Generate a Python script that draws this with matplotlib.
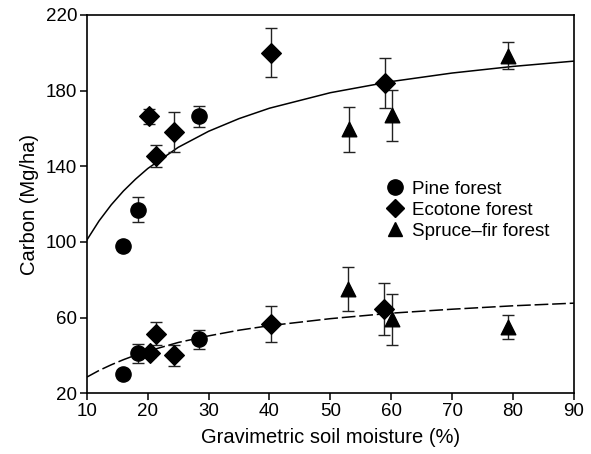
import numpy as np
import matplotlib
matplotlib.use("Agg")
import matplotlib.pyplot as plt
from matplotlib.lines import Line2D

plt.rcParams['font.family'] = ['Liberation Sans', 'DejaVu Sans']

# Pine forest (circles)
pine_x = [15.9, 18.4, 28.4, 15.9, 18.4, 28.4]
pine_y = [98, 117, 166.5, 30, 41, 48.5]
pine_err = [2.5, 6.5, 5.5, 0, 5, 5]

# Ecotone forest (diamonds)
eco_x = [20.2, 21.3, 24.3, 40.2, 58.9, 20.3, 21.3, 24.3, 40.2, 58.8]
eco_y = [166.5, 145.5, 158, 200, 184, 41, 51.5, 40, 56.5, 64.5]
eco_err = [4, 6, 10.5, 13, 13, 2, 6, 5.5, 9.5, 13.5]

# Spruce-fir forest (triangles)
spruce_x = [53.0, 60.2, 79.1, 52.9, 60.2, 79.1]
spruce_y = [159.5, 167, 198.5, 75, 59, 55]
spruce_err = [12, 13.5, 7, 11.5, 13.5, 6.5]

# fitted curves
curve_x = [10, 12, 14, 16, 18, 20, 25, 30, 35, 40, 50, 60, 70, 80, 90]
upper_y = [101, 111.1, 119.6, 126.9, 133.2, 138.8, 150.0, 158.5, 165.2,
           170.7, 178.9, 184.8, 189.3, 192.8, 195.6]
lower_y = [28.5, 32.0, 35.0, 37.7, 40.1, 42.2, 46.8, 50.3, 53.3,
           55.7, 59.4, 62.3, 64.4, 66.2, 67.6]

fig = plt.figure(figsize=(5.91, 4.54), dpi=100)
ax = fig.add_axes([0.147, 0.134, 0.824, 0.833])

ax.plot(curve_x, upper_y, color='black', lw=1.1, zorder=2)
ax.plot(curve_x, lower_y, color='black', lw=1.1, dashes=(9, 2.5), zorder=2)

eb = dict(fmt='none', ecolor='#222222', elinewidth=1.0, capsize=4.5,
          capthick=1.0, zorder=3)
ax.errorbar(pine_x, pine_y, yerr=pine_err, **eb)
ax.errorbar(eco_x, eco_y, yerr=eco_err, **eb)
ax.errorbar(spruce_x, spruce_y, yerr=spruce_err, **eb)

ax.scatter(pine_x, pine_y, marker='o', s=120, color='black', zorder=4)
ax.scatter(eco_x, eco_y, marker='D', s=100, color='black', zorder=4)
ax.scatter(spruce_x, spruce_y, marker='^', s=110, color='black', zorder=4)

ax.set_xlim(10, 90)
ax.set_ylim(20, 220)
ax.set_xticks(np.arange(10, 91, 10))
ax.set_yticks(np.arange(20, 221, 40))
ax.tick_params(direction='out', length=5, width=1.1, labelsize=13.5,
               top=False, right=False, pad=2)
for s in ax.spines.values():
    s.set_linewidth(1.2)

ax.set_xlabel('Gravimetric soil moisture (%)', fontsize=14.5, labelpad=6)
ax.set_ylabel('Carbon (Mg/ha)', fontsize=14.5, labelpad=5)

handles = [
    Line2D([], [], marker='o', ls='none', color='black', markersize=11),
    Line2D([], [], marker='D', ls='none', color='black', markersize=9.5),
    Line2D([], [], marker='^', ls='none', color='black', markersize=10),
]
ax.legend(handles, ['Pine forest', 'Ecotone forest', 'Spruce\u2013fir forest'],
          loc='center left', bbox_to_anchor=(0.594, 0.484), frameon=False,
          fontsize=13.5, handletextpad=0.3, labelspacing=0.2,
          handlelength=1.2, borderaxespad=0)

fig.savefig('out.png', dpi=100)
